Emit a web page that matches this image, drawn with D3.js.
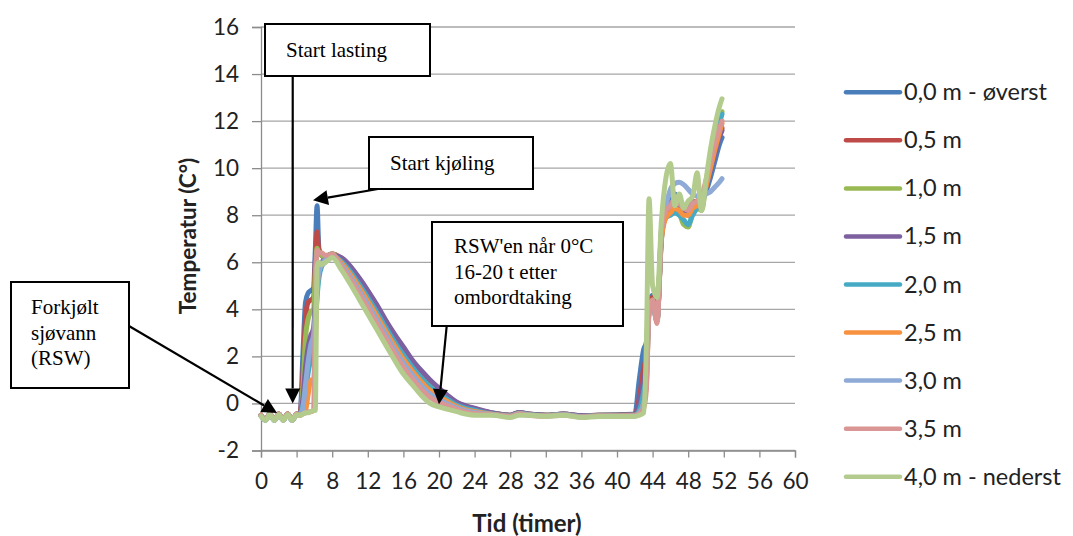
<!DOCTYPE html>
<html>
<head>
<meta charset="utf-8">
<script src="https://cdn.jsdelivr.net/npm/d3@7"></script>
<style>
  body { margin: 0; background: #fff; }
  svg { display: block; }
</style>
</head>
<body>
<div id="chart"></div>
<script>
// time axis shared by all depth series (hours)
let hours = [0, 0.5, 1, 1.5, 2, 2.5, 3, 3.5, 4,
  4.4, 4.7, 5.0, 5.3, 5.6, 5.9, 6.1, 6.3, 6.5, 6.8, 7.2, 7.6, 8,
  9, 10, 11, 12, 13, 14, 15, 16, 17, 18, 19, 20, 21, 22, 23, 24,
  26, 28, 29, 30, 32, 34, 36, 38, 40, 42,
  42.5, 43, 43.3, 43.6, 44, 44.5, 45,
  45.5, 46, 46.5, 47, 47.5, 48, 48.5, 49, 49.5, 50, 50.5, 51, 51.5, 51.8];

let depthNames = ["0,0 m - øverst", "0,5 m", "1,0 m", "1,5 m", "2,0 m", "2,5 m", "3,0 m", "3,5 m", "4,0 m - nederst"];
let depthColors = ["#4a7ebb", "#be4b48", "#98b954", "#7d60a0", "#46aac5", "#f69240", "#8eaad6", "#d99694", "#b3cc8e"];

let temp00 = [-0.5, -0.7, -0.45, -0.7, -0.45, -0.7, -0.45, -0.7, -0.45,
  -0.4, 2.0, 4.3, 4.7, 4.8, 4.9, 6.5, 8.4, 6.6, 6.3, 6.2, 6.3, 6.35,
  6.12, 5.74, 5.22, 4.65, 4.04, 3.39, 2.79, 2.23, 1.69, 1.24, 0.85, 0.53, 0.24, -0.01, -0.15, -0.25,
  -0.4, -0.5, -0.38, -0.45, -0.5, -0.45, -0.52, -0.5, -0.48, -0.45,
  1.0, 2.3, 2.6, 4.3, 4.6, 3.8, 7.0,
  8.2, 8.5, 8.9, 8.6, 8.4, 8.2, 8.6, 8.4, 8.6, 9.0, 9.6, 10.3, 11.0, 11.3];
let temp05 = [-0.5, -0.68, -0.45, -0.7, -0.45, -0.68, -0.45, -0.7, -0.45,
  -0.4, 1.2, 3.6, 4.3, 4.4, 4.5, 6.0, 7.3, 6.5, 6.3, 6.2, 6.3, 6.35,
  6.18, 5.81, 5.31, 4.75, 4.15, 3.5, 2.9, 2.34, 1.8, 1.35, 0.95, 0.61, 0.3, 0.03, -0.12, -0.22,
  -0.42, -0.5, -0.4, -0.45, -0.5, -0.45, -0.52, -0.5, -0.5, -0.48,
  0.2, 1.5, 2.0, 4.2, 4.5, 3.6, 7.2,
  8.1, 8.3, 8.6, 8.4, 8.3, 8.1, 8.5, 8.6, 8.7, 9.3, 10.0, 10.8, 11.4, 11.7];
let temp10 = [-0.5, -0.7, -0.45, -0.7, -0.45, -0.7, -0.45, -0.7, -0.45,
  -0.4, 0.6, 2.8, 3.6, 3.9, 4.0, 5.5, 6.6, 6.4, 6.3, 6.2, 6.3, 6.35,
  6.12, 5.74, 5.22, 4.65, 4.04, 3.39, 2.79, 2.23, 1.69, 1.24, 0.85, 0.53, 0.24, -0.01, -0.15, -0.25,
  -0.42, -0.52, -0.4, -0.46, -0.5, -0.46, -0.55, -0.5, -0.5, -0.5,
  -0.2, 0.8, 1.5, 4.0, 4.4, 3.6, 7.3,
  8.0, 8.2, 8.4, 8.1, 7.6, 7.5, 8.1, 8.3, 8.2, 9.3, 10.4, 11.3, 12.0, 12.4];
let temp15 = [-0.5, -0.7, -0.45, -0.7, -0.45, -0.7, -0.45, -0.7, -0.45,
  -0.4, 0.2, 1.5, 2.4, 2.9, 3.2, 4.2, 5.2, 5.7, 6.0, 6.1, 6.2, 6.3,
  6.2, 5.85, 5.35, 4.8, 4.2, 3.55, 2.95, 2.4, 1.85, 1.4, 1.0, 0.65, 0.33, 0.05, -0.1, -0.2,
  -0.4, -0.5, -0.38, -0.45, -0.5, -0.45, -0.52, -0.5, -0.5, -0.48,
  0.0, 1.0, 1.6, 4.0, 4.3, 3.5, 7.1,
  8.0, 8.2, 8.5, 8.3, 8.2, 8.0, 8.4, 8.5, 8.6, 9.2, 9.9, 10.6, 11.3, 11.6];
let temp20 = [-0.52, -0.7, -0.46, -0.72, -0.46, -0.7, -0.46, -0.72, -0.46,
  -0.45, -0.1, 0.5, 1.3, 1.9, 2.3, 3.3, 4.5, 5.3, 5.8, 6.0, 6.2, 6.3,
  6.05, 5.63, 5.08, 4.5, 3.89, 3.24, 2.62, 2.06, 1.54, 1.09, 0.7, 0.41, 0.16, -0.07, -0.2, -0.29,
  -0.45, -0.52, -0.42, -0.47, -0.52, -0.47, -0.55, -0.52, -0.52, -0.5,
  -0.3, 0.5, 1.2, 3.9, 4.2, 3.5, 7.2,
  7.9, 8.0, 8.1, 8.0, 7.8, 7.6, 8.0, 8.3, 8.4, 9.3, 10.3, 11.2, 11.9, 12.3];
let temp25 = [-0.5, -0.7, -0.45, -0.7, -0.45, -0.7, -0.45, -0.7, -0.45,
  -0.5, -0.4, -0.3, 0.4, 1.0, 0.9, 2.5, 4.8, 5.6, 5.9, 6.0, 6.2, 6.3,
  5.98, 5.51, 4.95, 4.35, 3.73, 3.08, 2.46, 1.88, 1.38, 0.93, 0.55, 0.29, 0.07, -0.13, -0.26, -0.34,
  -0.46, -0.54, -0.43, -0.48, -0.52, -0.48, -0.56, -0.52, -0.52, -0.5,
  -0.4, 0.0, 0.8, 3.8, 4.2, 3.5, 7.0,
  7.9, 8.1, 8.3, 8.2, 8.0, 8.0, 8.3, 8.4, 8.5, 9.2, 10.0, 10.8, 11.5, 11.9];
let temp30 = [-0.52, -0.72, -0.46, -0.72, -0.46, -0.72, -0.46, -0.72, -0.46,
  -0.45, -0.2, 0.8, 1.8, 2.5, 2.9, 3.8, 5.0, 5.6, 5.9, 6.1, 6.2, 6.3,
  5.9, 5.4, 4.81, 4.2, 3.57, 2.92, 2.29, 1.71, 1.22, 0.77, 0.4, 0.17, -0.02, -0.19, -0.31, -0.38,
  -0.47, -0.55, -0.44, -0.48, -0.53, -0.48, -0.57, -0.53, -0.53, -0.52,
  -0.4, 0.0, 0.9, 3.9, 4.2, 3.5, 7.4,
  8.4, 9.1, 9.35, 9.4, 9.3, 9.1, 8.9, 8.8, 8.7, 8.9, 9.0, 9.2, 9.4, 9.55];
let temp35 = [-0.5, -0.7, -0.45, -0.7, -0.45, -0.7, -0.45, -0.7, -0.45,
  -0.5, -0.45, -0.4, -0.35, -0.35, -0.3, 3.5, 6.5, 6.4, 6.4, 6.3, 6.3, 6.35,
  5.83, 5.29, 4.68, 4.05, 3.41, 2.76, 2.13, 1.54, 1.06, 0.61, 0.25, 0.05, -0.1, -0.25, -0.36, -0.43,
  -0.48, -0.56, -0.45, -0.5, -0.54, -0.5, -0.58, -0.54, -0.54, -0.53,
  -0.45, -0.2, 0.6, 4.0, 4.4, 3.4, 7.4,
  8.2, 8.4, 8.7, 8.5, 8.3, 8.2, 8.5, 8.6, 8.8, 9.5, 10.3, 11.1, 11.7, 12.0];
let temp40 = [-0.55, -0.72, -0.48, -0.72, -0.48, -0.72, -0.48, -0.72, -0.48,
  -0.5, -0.45, -0.4, -0.4, -0.35, -0.3, -0.3, 5.8, 6.0, 5.9, 6.0, 6.1, 6.2,
  5.7, 5.1, 4.45, 3.8, 3.15, 2.5, 1.85, 1.25, 0.8, 0.35, 0.0, -0.15, -0.25, -0.35, -0.45, -0.5,
  -0.5, -0.6, -0.5, -0.5, -0.55, -0.5, -0.6, -0.55, -0.55, -0.55,
  -0.5, -0.4, 2.5, 8.7, 5.0, 4.5, 7.8,
  9.6, 10.2, 8.4, 8.9, 8.3, 8.6, 8.8, 9.8, 8.2, 9.5, 10.8, 11.8, 12.6, 12.95];

let allTemps = [temp00, temp05, temp10, temp15, temp20, temp25, temp30, temp35, temp40];

let yTicks = [-2, 0, 2, 4, 6, 8, 10, 12, 14, 16];
let xTicks = [0, 4, 8, 12, 16, 20, 24, 28, 32, 36, 40, 44, 48, 52, 56, 60];

let svgWidth = 1073;
let svgHeight = 536;

let viz = d3.select("#chart")
  .append("svg")
    .attr("width", svgWidth)
    .attr("height", svgHeight)
    .style("background-color", "white");

let x = d3.scaleLinear().domain([0, 60]).range([261, 795]);
let y = d3.scaleLinear().domain([-2, 16]).range([450.5, 27]);

let tickFont = "Lato, 'Open Sans', sans-serif";
let noteFont = "'Liberation Serif', 'Times New Roman', serif";

// horizontal gridlines
viz.selectAll(".grid").data(yTicks).enter()
  .append("line")
    .attr("class", "grid")
    .attr("x1", x(0))
    .attr("x2", x(60))
    .attr("y1", d => y(d))
    .attr("y2", d => y(d))
    .attr("stroke", "#a6a6a6")
    .attr("stroke-width", 1.3);

// y axis
let yAxis = viz.append("g")
  .attr("transform", "translate(" + x(0) + ",0)")
  .call(d3.axisLeft(y).tickValues(yTicks).tickSize(9).tickPadding(13).tickFormat(d3.format("d")));
yAxis.select(".domain").attr("stroke", "#8c8c8c").attr("stroke-width", 1.3);
yAxis.selectAll(".tick line").attr("stroke", "#8c8c8c").attr("stroke-width", 1.3);
yAxis.selectAll("text")
  .attr("font-family", tickFont)
  .attr("font-size", 22.5)
  .attr("fill", "#222")
  .text(d => d < 0 ? "-" + Math.abs(d) : d);

// x axis
let xAxis = viz.append("g")
  .attr("transform", "translate(0," + y(-2) + ")")
  .call(d3.axisBottom(x).tickValues(xTicks).tickSize(7).tickPadding(16).tickFormat(d3.format("d")));
xAxis.select(".domain").attr("stroke", "#8c8c8c").attr("stroke-width", 1.3);
xAxis.selectAll(".tick line").attr("stroke", "#8c8c8c").attr("stroke-width", 1.3);
xAxis.selectAll("text")
  .attr("font-family", tickFont)
  .attr("font-size", 22.5)
  .attr("fill", "#222");

// axis titles
viz.append("text")
  .text("Temperatur (C°)")
  .attr("transform", "translate(196,236) rotate(-90)")
  .attr("text-anchor", "middle")
  .attr("font-family", tickFont)
  .attr("font-weight", "bold")
  .attr("font-size", 22.5)
  .attr("fill", "#222");

viz.append("text")
  .text("Tid (timer)")
  .attr("x", 527)
  .attr("y", 532)
  .attr("text-anchor", "middle")
  .attr("font-family", tickFont)
  .attr("font-weight", "bold")
  .attr("font-size", 24)
  .attr("fill", "#222");

// series lines
let line = d3.line()
  .x((d, i) => x(hours[i]))
  .y(d => y(d))
  .curve(d3.curveMonotoneX);

viz.selectAll(".depthLine").data(allTemps).enter()
  .append("path")
    .attr("class", "depthLine")
    .attr("d", line)
    .attr("fill", "none")
    .attr("stroke", (d, i) => depthColors[i])
    .attr("stroke-width", 5)
    .attr("stroke-linejoin", "round")
    .attr("stroke-linecap", "round");

// legend
let legend = viz.selectAll(".legendItem").data(depthNames).enter()
  .append("g")
    .attr("class", "legendItem")
    .attr("transform", (d, i) => "translate(846," + (92.3 + i * 48.05) + ")");

legend.append("line")
  .attr("x1", 0)
  .attr("x2", 54)
  .attr("stroke", (d, i) => depthColors[i])
  .attr("stroke-width", 4.5)
  .attr("stroke-linecap", "round");

legend.append("text")
  .text(d => d)
  .attr("x", 58)
  .attr("y", 8)
  .attr("font-family", tickFont)
  .attr("font-size", 23.5)
  .attr("fill", "#222");

// annotations: boxes with arrows
function arrow(x1, y1, x2, y2){
  let ang = Math.atan2(y2 - y1, x2 - x1);
  let len = 15, half = 7.5;
  let bx = x2 - len * Math.cos(ang), by = y2 - len * Math.sin(ang);
  viz.append("line")
    .attr("x1", x1).attr("y1", y1)
    .attr("x2", bx).attr("y2", by)
    .attr("stroke", "black")
    .attr("stroke-width", 2.2);
  let pts = [
    [x2, y2],
    [bx + half * Math.sin(ang), by - half * Math.cos(ang)],
    [bx - half * Math.sin(ang), by + half * Math.cos(ang)]
  ];
  viz.append("polygon")
    .attr("points", pts.map(p => p.join(",")).join(" "))
    .attr("fill", "black");
}

function noteBox(x0, y0, w, h, lines, tx, ty0, dy){
  viz.append("rect")
    .attr("x", x0).attr("y", y0)
    .attr("width", w).attr("height", h)
    .attr("fill", "white")
    .attr("stroke", "black")
    .attr("stroke-width", 2);
  lines.forEach((t, i) => {
    viz.append("text")
      .text(t)
      .attr("x", tx)
      .attr("y", ty0 + i * dy)
      .attr("font-family", noteFont)
      .attr("font-size", 21)
      .attr("fill", "black");
  });
}

arrow(292.7, 76, x(3.56), y(0.0));
noteBox(265, 24, 165, 52, ["Start lasting"], 286, 57, 0);

arrow(378, 189, x(5.84), y(8.64));
noteBox(369, 137, 164, 52, ["Start kjøling"], 390, 170, 0);

arrow(446.7, 326, x(20.0), y(-0.03));
noteBox(432, 222, 191, 104, ["RSW'en når 0°C", "16-20 t etter", "ombordtaking"], 454, 253, 25.5);

arrow(129, 326, x(1.8), y(-0.41));
noteBox(11, 282, 118, 106, ["Forkjølt", "sjøvann", "(RSW)"], 31, 314, 25.5);
</script>
</body>
</html>
